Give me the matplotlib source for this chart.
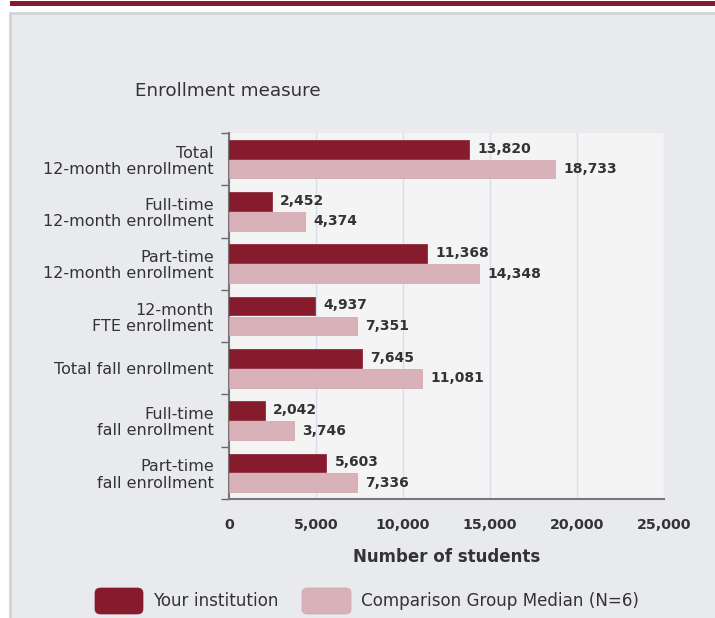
import matplotlib
matplotlib.use("Agg")
import matplotlib.pyplot as plt
from matplotlib.patches import Rectangle, FancyBboxPatch
import numpy as np

categories = ["Total\n12-month enrollment", "Full-time\n12-month enrollment",
              "Part-time\n12-month enrollment", "12-month\nFTE enrollment",
              "Total fall enrollment", "Full-time\nfall enrollment",
              "Part-time\nfall enrollment"]
your_institution = [13820, 2452, 11368, 4937, 7645, 2042, 5603]
comparison_median = [18733, 4374, 14348, 7351, 11081, 3746, 7336]
x_ticks = [0, 5000, 10000, 15000, 20000, 25000]
series_names = ["Your institution", "Comparison Group Median (N=6)"]

plt.rcParams['font.family'] = ['DejaVu Sans']

W, H = 715, 618
fig = plt.figure(figsize=(W/100, H/100), dpi=100)
fig.patch.set_facecolor("white")

def fx(px): return px / W
def fy(py): return 1 - py / H

# top band
fig.patches.append(Rectangle((fx(10), fy(6)), 1, 5/H, transform=fig.transFigure,
                             facecolor="#861b2d", edgecolor="none", zorder=-2))
# panel
fig.patches.append(Rectangle((fx(10), -0.01), 1, fy(13) + 0.01, transform=fig.transFigure,
                             facecolor="#e9eaee", edgecolor="#d4d4d6", linewidth=2, zorder=-2))

dark = "#861b2d"
light = "#d8b2b8"
txt = "#333333"

ax = fig.add_axes([fx(229), fy(499), fx(664) - fx(229), (499 - 133) / H])
ax.set_facecolor("#f4f4f4")
n = len(categories)
y = np.arange(n)
bh = 0.36
ax.barh(y - bh/2 - 0.01, your_institution, height=bh, color=dark, edgecolor=dark, linewidth=0.5, zorder=3)
ax.barh(y + bh/2 + 0.01, comparison_median, height=bh, color=light, edgecolor="#cfa3aa", linewidth=0.5, zorder=3)
ax.set_ylim(n - 0.5, -0.5)
ax.set_xlim(0, 25000)

for i in range(n):
    ax.annotate(f"{your_institution[i]:,}", (your_institution[i], y[i] - bh/2 - 0.01),
                xytext=(6, 0.5), textcoords="offset points", va="center", ha="left",
                fontsize=10, fontweight="bold", color=txt)
    ax.annotate(f"{comparison_median[i]:,}", (comparison_median[i], y[i] + bh/2 + 0.01),
                xytext=(6, 0), textcoords="offset points", va="center", ha="left",
                fontsize=10, fontweight="bold", color=txt)

ax.set_yticks(y)
ax.set_yticklabels(categories, fontsize=11.5, color=txt, linespacing=1.1)
ax.tick_params(axis="y", length=0, pad=11)
ax.set_yticks(np.arange(-0.5, n, 1), minor=True)
ax.tick_params(axis="y", which="minor", length=6, color="#666666", width=1)
ax.set_xticks(x_ticks)
ax.set_xticklabels([f"{v:,}" for v in x_ticks], fontsize=10.2, fontweight="bold", color=txt)
ax.tick_params(axis="x", length=0, pad=14)
ax.grid(axis="x", color="#d8deec", linewidth=1, zorder=0)
for s in ["top", "right"]:
    ax.spines[s].set_visible(False)
ax.spines["left"].set_color("#777777")
ax.spines["bottom"].set_color("#777777")
ax.spines["left"].set_linewidth(1.5)
ax.spines["bottom"].set_linewidth(1.5)
ax.set_xlabel("Number of students", fontsize=12, color=txt, fontweight="bold", labelpad=11)

fig.text(fx(135), fy(91), "Enrollment measure", fontsize=13.2, color=txt, va="center", ha="left")

# legend
for (x0, w, col, ec), name, tx in [((95, 48, dark, dark), series_names[0], 153),
                                   ((302, 49, light, "#cfa3aa"), series_names[1], 361)]:
    fig.patches.append(FancyBboxPatch((fx(x0), fy(614)), w / W, 26 / H,
                                      boxstyle="round,pad=0,rounding_size=0.008",
                                      transform=fig.transFigure, facecolor=col, edgecolor=ec, linewidth=0.5))
    fig.text(fx(tx), fy(601), name, fontsize=12.1, color=txt, va="center", ha="left")

fig.savefig("out.png", dpi=100, facecolor=fig.get_facecolor())
